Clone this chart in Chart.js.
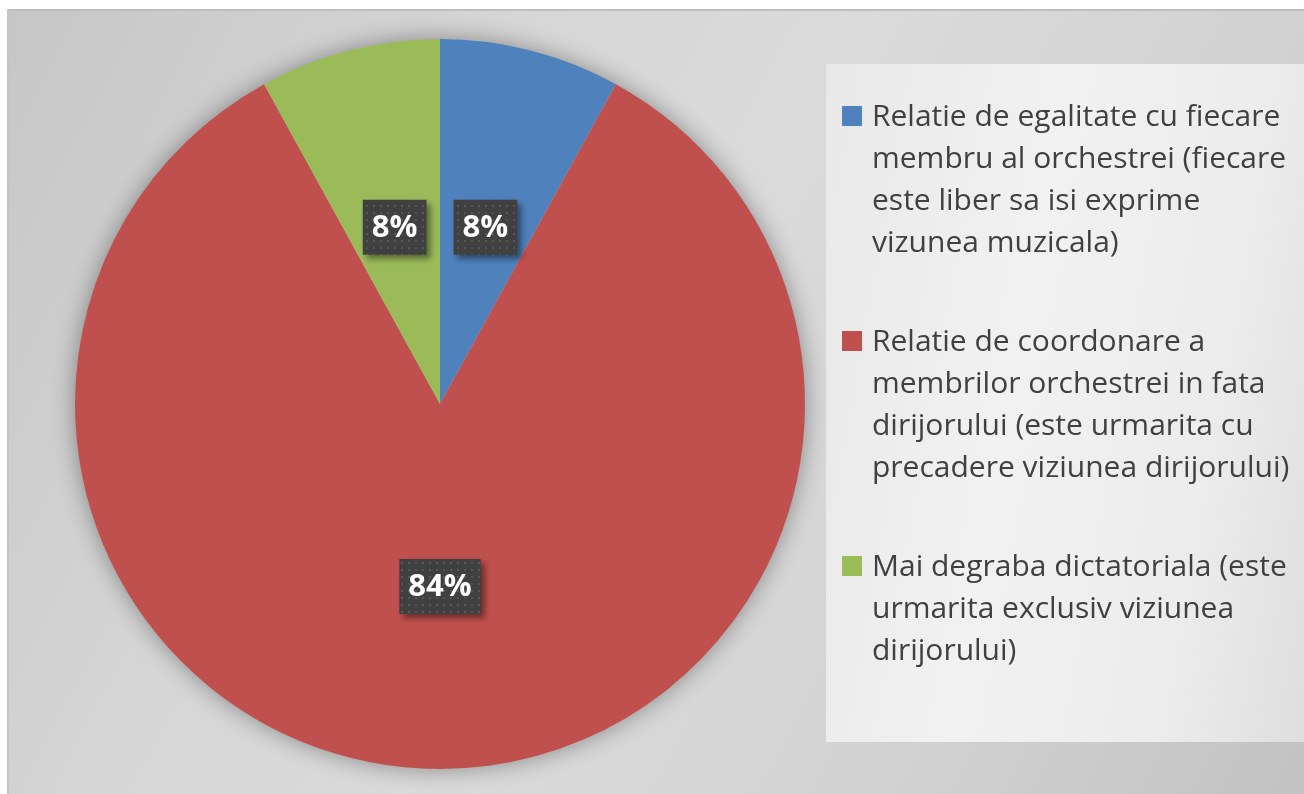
<!DOCTYPE html>
<html>
<head>
<meta charset="utf-8">
<script src="https://cdn.jsdelivr.net/npm/chart.js@4"></script>
<style>
  body { margin: 0; background: #fff; width: 1304px; height: 794px; overflow: hidden; position: relative; font-family: "Open Sans", sans-serif; }
  #cadru {
    position: absolute; left: 7px; top: 9px; width: 1297px; height: 785px;
    border-top: 2px solid #bdbdbd; border-left: 2px solid #c4c4c4; box-sizing: border-box;
    background: linear-gradient(118deg, #c6c6c6 0%, #d6d6d6 30%, #dadada 50%, #d2d2d2 75%, #c2c2c2 100%);
  }
  #zona-legenda {
    position: absolute; left: 826px; top: 64px; width: 478px; height: 678px;
    background: linear-gradient(100deg, #e8e8e8 0%, #f1f1f1 40%, #ececec 75%, #dedede 100%);
  }
  #grafic { position: absolute; left: 0; top: 0; }
  #legenda { position: absolute; left: 842px; top: 94px; }
  .element { position: relative; padding-left: 30px; margin-bottom: 57px; color: #404040; font-size: 30px; line-height: 42px; white-space: nowrap; }
  .element .patrat { position: absolute; left: 0; top: 12px; width: 20px; height: 20px; }
</style>
</head>
<body>
<div id="cadru"></div>
<div id="zona-legenda"></div>
<canvas id="grafic" width="1304" height="794"></canvas>
<div id="legenda"></div>

<script>
// ==========================================================
// DATE
// ==========================================================
const etichete = [
  ["Relatie de egalitate cu fiecare", "membru al orchestrei (fiecare", "este liber sa isi exprime", "vizunea muzicala)"],
  ["Relatie de coordonare a", "membrilor orchestrei in fata", "dirijorului (este urmarita cu", "precadere viziunea dirijorului)"],
  ["Mai degraba dictatoriala (este", "urmarita exclusiv viziunea", "dirijorului)"]
];
const valori = [8, 84, 8];
const culori = ["#4F81BD", "#C0504D", "#9BBB59"];

// ==========================================================
// MODEL DE PUNCTE PENTRU ETICHETE
// ==========================================================
function creeazaModel() {
  const c = document.createElement("canvas");
  c.width = 7; c.height = 7;
  const x = c.getContext("2d");
  x.fillStyle = "#404040";
  x.fillRect(0, 0, 7, 7);
  x.fillStyle = "#565656";
  x.fillRect(2, 2, 2, 2);
  return c;
}

// umbra discului, desenata sub felii
const umbraDisc = {
  id: "umbraDisc",
  beforeDatasetsDraw(chart) {
    const arc = chart.getDatasetMeta(0).data[0];
    if (!arc) return;
    const ctx = chart.ctx;
    ctx.save();
    ctx.shadowColor = "rgba(0,0,0,0.4)";
    ctx.shadowBlur = 24;
    ctx.fillStyle = "#c8c8c8";
    ctx.beginPath();
    ctx.arc(arc.x, arc.y, arc.outerRadius - 1, 0, Math.PI * 2);
    ctx.fill();
    ctx.restore();
  }
};

// etichete procentuale in casete inchise
const eticheteProcent = {
  id: "eticheteProcent",
  afterDatasetsDraw(chart) {
    const ctx = chart.ctx;
    const model = ctx.createPattern(creeazaModel(), "repeat");
    const total = valori.reduce((a, b) => a + b, 0);
    chart.getDatasetMeta(0).data.forEach((arc, i) => {
      const p = arc.tooltipPosition();
      const text = Math.round(valori[i] / total * 100) + "%";
      ctx.save();
      ctx.font = "bold 31px 'Open Sans'";
      const w = ctx.measureText(text).width + 18;
      const h = 55;
      ctx.shadowColor = "rgba(0,0,0,0.45)";
      ctx.shadowBlur = 6;
      ctx.shadowOffsetX = 4;
      ctx.shadowOffsetY = 4;
      ctx.fillStyle = model;
      ctx.fillRect(p.x - w / 2, p.y - h / 2, w, h);
      ctx.shadowColor = "transparent";
      ctx.fillStyle = "#ffffff";
      ctx.textAlign = "center";
      ctx.textBaseline = "middle";
      ctx.fillText(text, p.x, p.y + 1);
      ctx.restore();
    });
  }
};

// ==========================================================
// GRAFIC
// ==========================================================
new Chart(document.getElementById("grafic"), {
  type: "pie",
  data: {
    labels: etichete.map(l => l.join(" ")),
    datasets: [{ data: valori, backgroundColor: culori, borderWidth: 0 }]
  },
  options: {
    responsive: false,
    animation: false,
    layout: { padding: { left: 75, right: 499, top: 39, bottom: 25 } },
    plugins: { legend: { display: false }, tooltip: { enabled: false } }
  },
  plugins: [umbraDisc, eticheteProcent]
});

// legenda HTML
const legenda = document.getElementById("legenda");
etichete.forEach((linii, i) => {
  const el = document.createElement("div");
  el.className = "element";
  el.innerHTML = `<span class="patrat" style="background:${culori[i]}"></span>` + linii.join("<br>");
  legenda.appendChild(el);
});
</script>
</body>
</html>
